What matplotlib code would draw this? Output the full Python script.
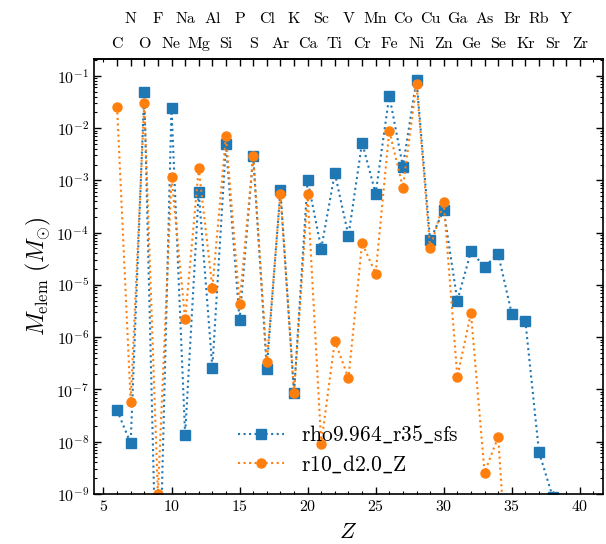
import numpy as np
import matplotlib
matplotlib.use("Agg")
import matplotlib.pyplot as plt
from matplotlib.ticker import MultipleLocator, LogLocator, NullFormatter, FixedLocator, FixedFormatter

plt.rcParams['font.family'] = 'serif'
plt.rcParams['font.serif'] = ['cmr10', 'DejaVu Serif']
plt.rcParams['mathtext.fontset'] = 'cm'
plt.rcParams['axes.formatter.use_mathtext'] = True

# Data
Z = list(range(6, 41))
elements = ['C', 'N', 'O', 'F', 'Ne', 'Na', 'Mg', 'Al', 'Si', 'P', 'S', 'Cl', 'Ar', 'K',
            'Ca', 'Sc', 'Ti', 'V', 'Cr', 'Mn', 'Fe', 'Co', 'Ni', 'Cu', 'Zn', 'Ga', 'Ge',
            'As', 'Se', 'Br', 'Kr', 'Rb', 'Sr', 'Y', 'Zr']
mass_rho = [4.0e-8, 9.3e-9, 5.0e-2, 1e-12, 2.44e-2, 1.35e-8, 6.0e-4, 2.6e-7, 4.9e-3, 2.1e-6,
            2.95e-3, 2.5e-7, 6.5e-4, 8.6e-8, 1.02e-3, 4.95e-5, 1.38e-3, 8.7e-5, 5.3e-3, 5.6e-4,
            4.2e-2, 1.84e-3, 8.4e-2, 7.1e-5, 2.7e-4, 5.0e-6, 4.36e-5, 2.24e-5, 3.9e-5, 2.8e-6,
            2.0e-6, 6.3e-9, 8.9e-10, 1e-12, 1e-13]
mass_r10 = [2.55e-2, 5.8e-8, 3.0e-2, 1.0e-9, 1.15e-3, 2.2e-6, 1.69e-3, 8.8e-6, 7.1e-3, 4.4e-6,
            2.9e-3, 3.3e-7, 5.6e-4, 8.6e-8, 5.4e-4, 9.2e-9, 8.5e-7, 1.64e-7, 6.3e-5, 1.65e-5,
            8.97e-3, 7.3e-4, 7.0e-2, 5.0e-5, 3.8e-4, 1.74e-7, 2.9e-6, 2.57e-9, 1.23e-8, 1.5e-12,
            1e-13, 1e-13, 1e-13, 1e-13, 1e-13]
labels = [r'$\mathrm{rho9.964\_r35\_sfs}$', r'$\mathrm{r10\_d2.0\_Z}$']

fig = plt.figure(figsize=(6.06, 5.44), dpi=100)
ax = fig.add_axes([0.155, 0.092, 0.840, 0.7995])

ax.plot(Z, mass_rho, ls=':', marker='s', color='#1f77b4', lw=1.5, ms=6.5, label=labels[0])
ax.plot(Z, mass_r10, ls=':', marker='o', color='#ff7f0e', lw=1.5, ms=6.5, label=labels[1])

ax.set_yscale('log')
ax.set_ylim(1e-9, 0.21)
ax.set_xlim(4.3, 41.7)
ax.xaxis.set_major_locator(MultipleLocator(5))
ax.xaxis.set_minor_locator(MultipleLocator(1))
ax.yaxis.set_major_locator(LogLocator(base=10, numticks=20))
ax.yaxis.set_minor_locator(LogLocator(base=10, subs=np.arange(2, 10), numticks=100))
ax.yaxis.set_minor_formatter(NullFormatter())
ax.tick_params(which='both', direction='in', left=True, right=True, bottom=True, top=False, labelsize=11.5)
ax.tick_params(which='major', length=5, width=1)
ax.tick_params(which='minor', length=2.5, width=0.8)
for s in ax.spines.values():
    s.set_linewidth(1.2)

ax.set_xlabel(r'$Z$', fontsize=16, labelpad=6)
ax.set_ylabel(r'$M_{\rm elem}\ (M_{\odot})$', fontsize=17, labelpad=2)

# top axis: even-Z element names (lower row) with ticks
Z_odd = [z for z in Z if z % 2 == 1]
el_odd = [el for z, el in zip(Z, elements) if z % 2 == 1]

top = ax.secondary_xaxis('top')
top.xaxis.set_major_locator(FixedLocator(Z))
top.xaxis.set_major_formatter(FixedFormatter([el if z % 2 == 0 else '' for z, el in zip(Z, elements)]))
top.xaxis.set_minor_locator(FixedLocator([5, 41]))
top.tick_params(which='both', direction='in', labelsize=11.5, pad=6)
top.tick_params(which='major', length=5, width=1)
top.tick_params(which='minor', length=2.5, width=0.8)
top.spines['top'].set_linewidth(1.2)

# top axis: odd-Z element names (upper row)
top2 = ax.secondary_xaxis('top')
top2.xaxis.set_major_locator(FixedLocator(Z_odd))
top2.xaxis.set_major_formatter(FixedFormatter(el_odd))
top2.tick_params(which='both', direction='in', labelsize=11.5, pad=23.5, length=0)
top2.spines['top'].set_visible(False)

ax.legend(loc='lower center', frameon=False, fontsize=15.5, handlelength=2.1,
          labelspacing=0.35, bbox_to_anchor=(0.5, 0.0))

fig.savefig('out.png', dpi=100)
